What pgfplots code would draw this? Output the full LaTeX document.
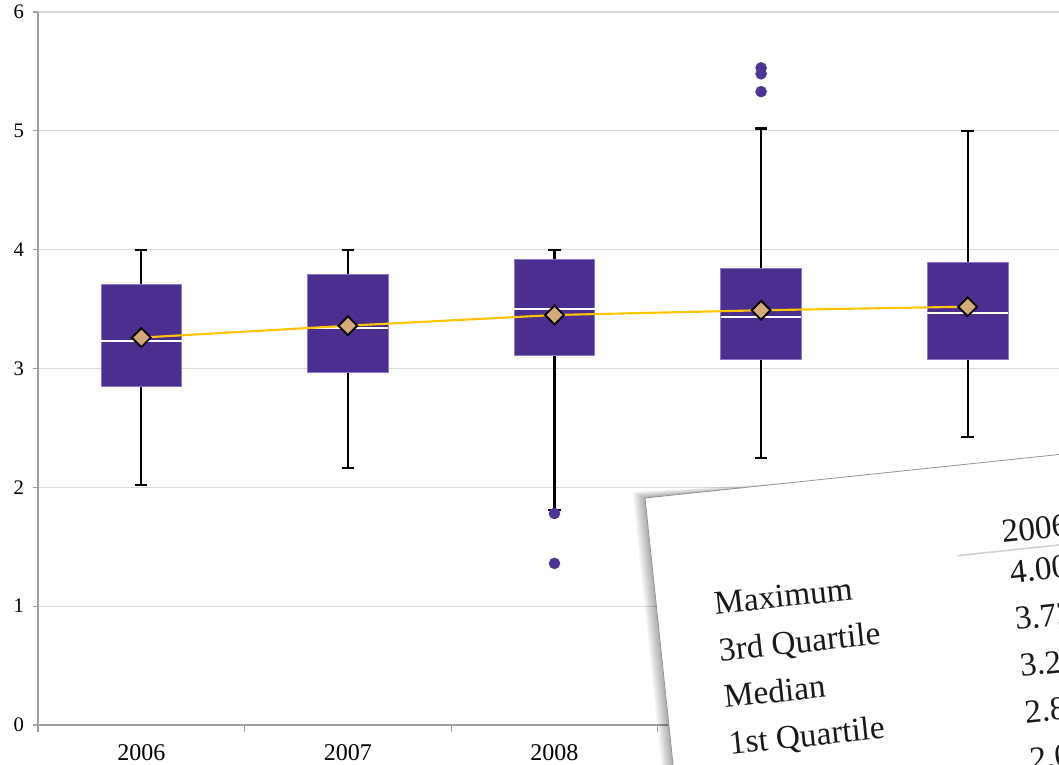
\documentclass[border=0pt]{standalone}
\usepackage{pgfplots}
\pgfplotsset{compat=1.18}
\usepgfplotslibrary{statistics}
\usepackage{fontspec}
\setmainfont{Liberation Serif}
\definecolor{boxc}{RGB}{75,46,143}
\definecolor{boxedge}{RGB}{140,120,200}
\definecolor{outc}{RGB}{78,52,150}
\definecolor{meanline}{RGB}{255,198,0}
\definecolor{meanfill}{RGB}{212,170,120}
\definecolor{gridc}{RGB}{217,217,217}
\definecolor{axc}{RGB}{160,160,160}
\begin{document}
\begin{tikzpicture}
\useasboundingbox (0,0) rectangle (794.25pt,573pt);
\clip (0,0) rectangle (794.25pt,573pt);
\begin{axis}[
  scale only axis,
  width=765.75pt, height=534.75pt,
  at={(28.5pt,29.25pt)}, anchor=south west,
  xmin=-0.5, xmax=4.442, ymin=0, ymax=6,
  axis x line*=bottom, axis y line*=left,
  axis line style={-, draw=axc, line width=0.8pt},
  ytick={0,1,2,3,4,5,6},
  xtick={0,1,2,3,4},
  xticklabels={2006,2007,2008,2009,2010},
  xtick style={draw=none},
  ytick style={draw=axc, line width=0.8pt},
  tick align=outside,
  major tick length=4pt,
  extra x ticks={-0.5,0.5,1.5,2.5,3.5},
  extra x tick labels={},
  extra x tick style={xtick style={draw=axc, line width=0.8pt}, major tick length=5pt, tick align=outside},
  ymajorgrids,
  grid style={draw=gridc, line width=0.8pt},
  /pgf/number format/assume math mode=true,
  xticklabel style={font=\fontsize{18}{18}\selectfont, yshift=-7pt},
  yticklabel style={font=\fontsize{15.5}{16}\selectfont, xshift=-3pt},
  boxplot/draw direction=y,
  boxplot/every box/.style={draw=boxedge, fill=boxc, line width=0.6pt},
  boxplot/every median/.style={draw=white, line width=1.5pt},
  boxplot/every whisker/.style={draw=black, line width=1.6pt},
  boxplot/box extend=0.39,
  boxplot/whisker extend=0.06,
  clip=false,
]
\addplot[only marks, mark=*, mark size=4.1pt, mark options={fill=outc, draw=outc},
  boxplot prepared={draw position=0, lower whisker=2.02, lower quartile=2.85,
  median=3.23, upper quartile=3.71, upper whisker=4.00}] coordinates {};
\addplot[only marks, mark=*, mark size=4.1pt, mark options={fill=outc, draw=outc},
  boxplot prepared={draw position=1, lower whisker=2.16, lower quartile=2.97,
  median=3.34, upper quartile=3.79, upper whisker=4.00}] coordinates {};
\addplot[only marks, mark=*, mark size=4.1pt, mark options={fill=outc, draw=outc},
  boxplot prepared={draw position=2, lower whisker=1.81, lower quartile=3.11,
  median=3.50, upper quartile=3.92, upper whisker=4.00}]
  table[row sep=\\, y index=0] {data\\ 1.78\\ 1.36\\};
\addplot[only marks, mark=*, mark size=4.1pt, mark options={fill=outc, draw=outc},
  boxplot prepared={draw position=3, lower whisker=2.25, lower quartile=3.08,
  median=3.43, upper quartile=3.84, upper whisker=5.02}]
  table[row sep=\\, y index=0] {data\\ 5.53\\ 5.48\\ 5.33\\};
\addplot[only marks, mark=*, mark size=4.1pt, mark options={fill=outc, draw=outc},
  boxplot prepared={draw position=4, lower whisker=2.42, lower quartile=3.08,
  median=3.47, upper quartile=3.89, upper whisker=5.00}] coordinates {};
\addplot[color=meanline, line width=1.6pt, mark=square*, mark size=5pt,
  mark options={fill=meanfill, draw=black, line width=1.4pt, rotate=45}]
  coordinates {(0,3.26) (1,3.36) (2,3.45) (3,3.49) (4,3.52)};
\end{axis}
\begin{scope}[shift={(483.75pt,199.5pt)}, rotate=6, transform shape, x=0.75pt, y=0.75pt]
  \foreach \i in {1,...,9} {
    \fill[black, opacity=0.04] ({-1.3*\i}, {0.8*\i}) -- ({60+10*\i},0) -- (600,-450) -- ({-1.3*\i},-450) -- cycle;
  }
  \filldraw[fill=white, draw=gray!85, line width=0.6pt] (0,0) rectangle (600,-450);
  \draw[gray!35, line width=1.2pt] (305,-90) -- (600,-90);
  \begin{scope}[every node/.style={anchor=base west, inner sep=0pt, font=\fontsize{25}{30}\selectfont, text=black!90}]
    \node at (351,-82) {2006};
    \node at (57.5,-123) {Maximum};
    \node at (57.5,-170) {3rd Quartile};
    \node at (57.5,-217) {Median};
    \node at (57.5,-264) {1st Quartile};
    \node at (57.5,-311) {Minimum};
    \node at (355,-123) {4.00};
    \node at (355,-170) {3.72};
    \node at (355,-217) {3.23};
    \node at (355,-264) {2.85};
    \node at (355,-311) {2.02};
  \end{scope}
\end{scope}
\end{tikzpicture}
\end{document}
